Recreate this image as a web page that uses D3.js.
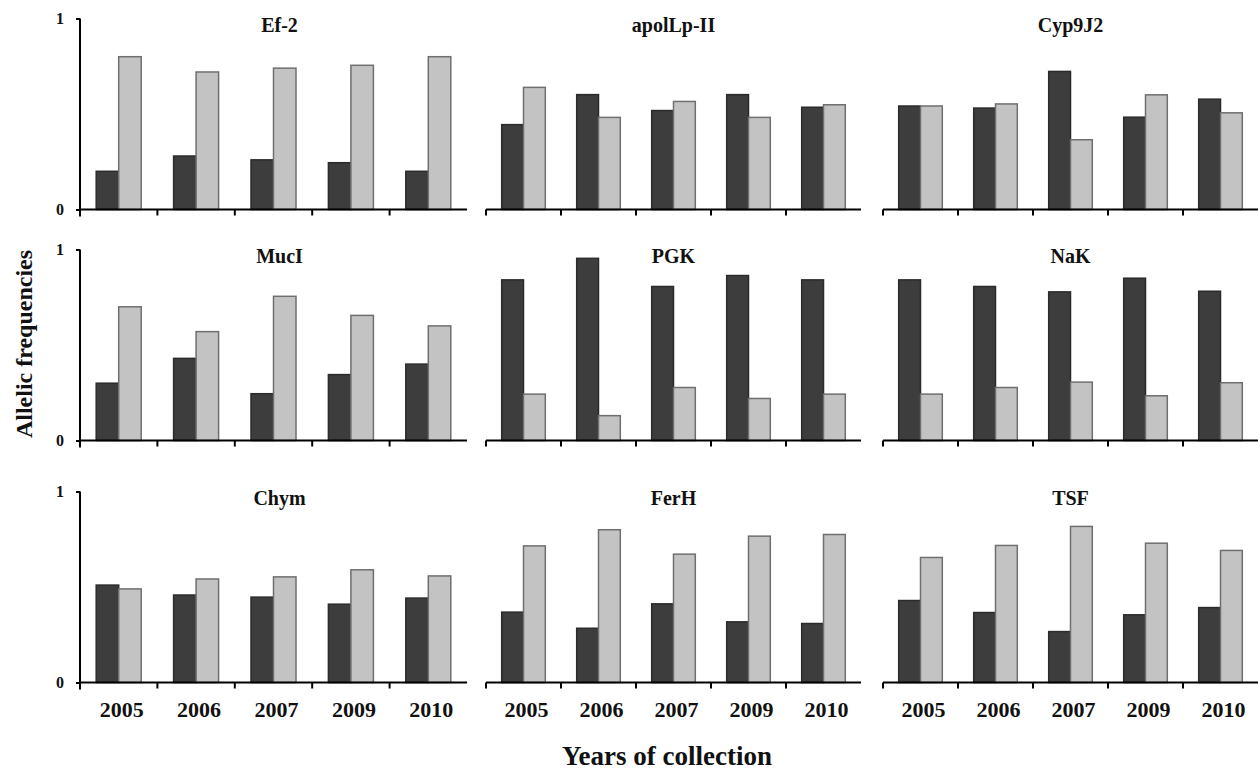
<!DOCTYPE html>
<html>
<head>
<meta charset="utf-8">
<script src="https://cdn.jsdelivr.net/npm/d3@7"></script>
<style>
  body { margin: 0; background: #fff; }
  text { font-family: "Liberation Serif", "Times New Roman", serif; font-weight: bold; fill: #111; }
</style>
</head>
<body>
<div id="chart"></div>
<script>
// data
const years = ["2005", "2006", "2007", "2009", "2010"];
const genes = ["Ef-2", "apolLp-II", "Cyp9J2", "MucI", "PGK", "NaK", "Chym", "FerH", "TSF"];

// dark bars (first allele), one row per gene
const allele1 = [
  [0.20, 0.28, 0.26, 0.245, 0.20],
  [0.41, 0.555, 0.478, 0.555, 0.494],
  [0.50, 0.49, 0.667, 0.446, 0.533],
  [0.30, 0.43, 0.245, 0.345, 0.40],
  [0.776, 0.88, 0.744, 0.797, 0.776],
  [0.776, 0.744, 0.718, 0.784, 0.721],
  [0.51, 0.458, 0.447, 0.41, 0.442],
  [0.34, 0.262, 0.38, 0.293, 0.285],
  [0.396, 0.338, 0.246, 0.327, 0.362]
];
// light bars (second allele)
const allele2 = [
  [0.80, 0.72, 0.74, 0.755, 0.80],
  [0.59, 0.445, 0.522, 0.445, 0.506],
  [0.50, 0.51, 0.337, 0.554, 0.467],
  [0.70, 0.57, 0.755, 0.655, 0.60],
  [0.224, 0.12, 0.256, 0.203, 0.224],
  [0.224, 0.256, 0.282, 0.216, 0.279],
  [0.49, 0.542, 0.553, 0.59, 0.558],
  [0.66, 0.738, 0.62, 0.707, 0.715],
  [0.604, 0.662, 0.754, 0.673, 0.638]
];
const yTicks = [0, 1];

// layout of the 3x3 grid
const W = 1258, H = 772;
const colX = [80, 486, 883], colW = [387, 375, 375];
const colH = [191, 207, 207];
const rowZero = [209.5, 440.5, 682.5];

const svg = d3.select("#chart").append("svg")
    .attr("width", W)
    .attr("height", H);

const fills = ["#3d3d3d", "#c3c3c3"];
const strokes = ["#2b2b2b", "#6f6f6f"];

genes.forEach(function(gene, i) {
  let row = Math.floor(i / 3), col = i % 3;
  let x0 = colX[col], zero = rowZero[row];

  let x = d3.scaleBand()
      .domain(years)
      .range([x0, x0 + colW[col]])
      .padding(0);

  let xSub = d3.scaleBand()
      .domain([0, 1])
      .range([0, x.bandwidth()])
      .paddingInner(0)
      .paddingOuter(0.72);

  let y = d3.scaleLinear()
      .domain([0, 1])
      .range([zero, zero - colH[col]]);

  let g = svg.append("g");

  // bars
  let groups = g.selectAll("g.yr")
    .data(years)
    .enter().append("g")
      .attr("transform", d => `translate(${x(d)},0)`);

  groups.selectAll("rect")
    .data((d, j) => [allele1[i][j], allele2[i][j]])
    .enter().append("rect")
      .attr("x", (d, k) => xSub(k))
      .attr("width", xSub.bandwidth())
      .attr("y", d => y(d))
      .attr("height", d => y(0) - y(d))
      .attr("fill", (d, k) => fills[k])
      .attr("stroke", (d, k) => strokes[k])
      .attr("stroke-width", 1.5);

  // x axis: baseline plus ticks on the band boundaries
  g.append("line")
      .attr("x1", x0).attr("x2", x0 + colW[col])
      .attr("y1", y(0)).attr("y2", y(0))
      .attr("stroke", "#000")
      .attr("stroke-width", 2);

  g.selectAll("line.tk")
    .data(years)
    .enter().append("line")
      .attr("x1", d => x(d)).attr("x2", d => x(d))
      .attr("y1", y(0)).attr("y2", y(0) + 6)
      .attr("stroke", "#000")
      .attr("stroke-width", 2);

  // year labels only on the bottom row
  if (row == 2) {
    let xa = g.append("g")
      .attr("transform", `translate(0,${y(0)})`)
      .call(d3.axisBottom(x).tickSize(0).tickPadding(19));
    xa.select(".domain").remove();
    xa.selectAll("text")
      .attr("dx", 3)
      .style("font-size", "22px")
      .style("font-family", "'Liberation Serif', 'Times New Roman', serif")
      .style("font-weight", "bold")
      .attr("fill", "#111");
  }

  // y axis only on the left column
  if (col == 0) {
    let ya = g.append("g")
      .attr("transform", `translate(${x0},0)`)
      .call(d3.axisLeft(y).tickValues(yTicks).tickSize(4).tickPadding(12).tickFormat(d3.format("d")));
    ya.select(".domain").remove();
    ya.selectAll(".tick line").attr("stroke-width", 2);
    ya.selectAll("text")
      .style("font-size", "16px")
      .style("font-family", "'Liberation Serif', 'Times New Roman', serif")
      .style("font-weight", "bold")
      .attr("fill", "#111");
    g.append("line")
      .attr("x1", x0).attr("x2", x0)
      .attr("y1", y(1)).attr("y2", y(0) + 7)
      .attr("stroke", "#000")
      .attr("stroke-width", 2);
  }

  // panel title
  g.append("text")
      .attr("x", x0 + colW[col] / 2 + (col == 0 ? 6 : 0))
      .attr("y", zero - 178)
      .attr("text-anchor", "middle")
      .style("font-size", "20px")
      .text(gene);
});

// axis titles
svg.append("text")
    .attr("transform", "translate(32,344) rotate(-90)")
    .attr("text-anchor", "middle")
    .style("font-size", "24px")
    .text("Allelic frequencies");

svg.append("text")
    .attr("x", 667)
    .attr("y", 765)
    .attr("text-anchor", "middle")
    .style("font-size", "27px")
    .text("Years of collection");
</script>
</body>
</html>
